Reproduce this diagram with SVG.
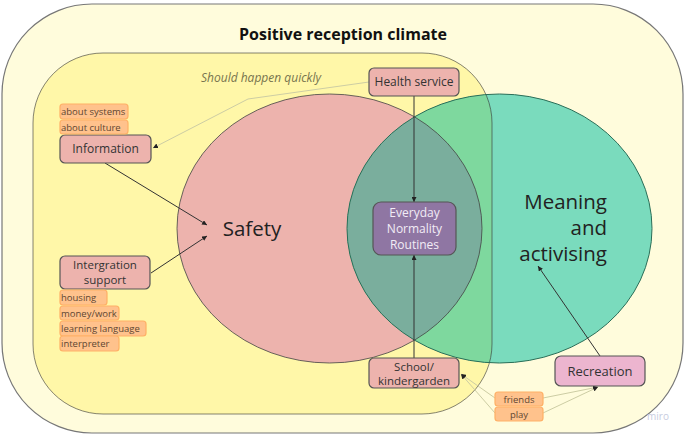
<svg xmlns="http://www.w3.org/2000/svg" width="685" height="437" viewBox="0 0 685 437">
<defs>
<style>
text{font-family:"Open Sans","DejaVu Sans",sans-serif;}
.node{fill:#edb3ad;stroke:#555;stroke-width:1.2;}
.lbl{font-size:12px;fill:#333;text-anchor:middle;}
.tag{fill:#ffc28c;stroke:#ffb066;stroke-width:1.2;}
.tagt{font-size:9.5px;fill:#5e4632;}
.dark{stroke:#333;stroke-width:1;fill:none;}
.light{stroke:#cdcda4;stroke-width:1;fill:none;}
.big{font-size:20.5px;fill:#222;}
</style>
<marker id="ah" viewBox="0 0 6 6" refX="6" refY="3" markerWidth="5" markerHeight="5" markerUnits="userSpaceOnUse" orient="auto">
<path d="M0,0 L6,3 L0,6 z" fill="#222"/>
</marker>
<clipPath id="cg"><ellipse cx="499.5" cy="228.5" rx="152.5" ry="134.5"/></clipPath>
</defs>
<g id="outer">
<rect x="2" y="4" width="681" height="429" rx="90" ry="90" fill="#fffcdc" stroke="#777" stroke-width="1.2"/>
<text x="343" y="39.5" font-size="16" font-weight="bold" fill="#111" text-anchor="middle">Positive reception climate</text>
</g>
<g id="inner">
<rect x="33" y="53" width="459" height="361" rx="70" ry="70" fill="#fff7a8"/>
<text x="201" y="82" font-size="12" font-style="italic" fill="#77744e">Should happen quickly</text>
</g>
<g id="safety">
<ellipse cx="329.5" cy="228.5" rx="152.5" ry="134.5" fill="#edb3ad"/>
</g>
<g id="meaning">
<ellipse cx="499.5" cy="228.5" rx="152.5" ry="134.5" fill="#7adbbd"/>
<g clip-path="url(#cg)">
<rect x="33" y="53" width="459" height="361" rx="70" ry="70" fill="#7ed89e"/>
<ellipse cx="329.5" cy="228.5" rx="152.5" ry="134.5" fill="#7aae9d"/>
</g>
<rect x="33" y="53" width="459" height="361" rx="70" ry="70" fill="none" stroke="#333" stroke-opacity="0.6" stroke-width="1"/>
<ellipse cx="329.5" cy="228.5" rx="152.5" ry="134.5" fill="none" stroke="#444" stroke-opacity="0.8" stroke-width="1"/>
<ellipse cx="499.5" cy="228.5" rx="152.5" ry="134.5" fill="none" stroke="#2a6e58" stroke-width="1"/>
<text class="big" x="252" y="236" text-anchor="middle">Safety</text>
<text class="big" x="607" y="209" text-anchor="end">Meaning</text>
<text class="big" x="607" y="235" text-anchor="end">and</text>
<text class="big" x="607" y="261" text-anchor="end">activising</text>
</g>
<g id="connectors">
<polyline class="light" points="369,82 248,99 153,148" marker-end="url(#ah)"/>
<line class="dark" x1="414" y1="96" x2="414" y2="202" marker-end="url(#ah)"/>
<line class="dark" x1="414" y1="358" x2="414" y2="255" marker-end="url(#ah)"/>
<line class="dark" x1="105" y1="163" x2="207" y2="225" marker-end="url(#ah)"/>
<line class="dark" x1="151" y1="273" x2="207" y2="236" marker-end="url(#ah)"/>
<line class="dark" x1="600" y1="356" x2="538" y2="266" marker-end="url(#ah)"/>
<line class="light" x1="495" y1="398" x2="461" y2="374" marker-end="url(#ah)"/>
<line class="light" x1="495" y1="413" x2="461" y2="374" marker-end="url(#ah)"/>
<line class="light" x1="543" y1="398" x2="598" y2="387" marker-end="url(#ah)"/>
<line class="light" x1="543" y1="413" x2="598" y2="387" marker-end="url(#ah)"/>
</g>
<g id="health">
<rect class="node" x="369" y="68" width="90" height="28" rx="5"/>
<text class="lbl" x="414" y="86">Health service</text>
</g>
<g id="everyday">
<rect x="373" y="202" width="83" height="53" rx="8" fill="#8f76a3" stroke="#555" stroke-width="1.2"/>
<text class="lbl" x="414.5" y="217" style="fill:#f2ecf6">Everyday</text>
<text class="lbl" x="414.5" y="233" style="fill:#f2ecf6">Normality</text>
<text class="lbl" x="414.5" y="249" style="fill:#f2ecf6">Routines</text>
</g>
<g id="information">
<rect class="node" x="60" y="135" width="91" height="28" rx="5"/>
<text class="lbl" x="105.5" y="153">Information</text>
</g>
<g id="tag-systems"><rect class="tag" x="60" y="104" width="68" height="15" rx="3"/><text class="tagt" x="61" y="115">about systems</text></g>
<g id="tag-culture"><rect class="tag" x="60" y="120" width="68" height="14" rx="3"/><text class="tagt" x="61" y="130.5">about culture</text></g>
<g id="integration">
<rect class="node" x="60" y="256" width="90" height="33" rx="5"/>
<text class="lbl" x="105" y="268.5" style="font-size:11.5px">Intergration</text>
<text class="lbl" x="105" y="284" style="font-size:11.5px">support</text>
</g>
<g id="tag-housing"><rect class="tag" x="60" y="290" width="47" height="15" rx="3"/><text class="tagt" x="61" y="301">housing</text></g>
<g id="tag-money"><rect class="tag" x="60" y="306" width="59" height="14" rx="3"/><text class="tagt" x="61" y="316.5">money/work</text></g>
<g id="tag-language"><rect class="tag" x="60" y="321" width="86" height="15" rx="3"/><text class="tagt" x="61" y="332">learning language</text></g>
<g id="tag-interpreter"><rect class="tag" x="60" y="336" width="59" height="15" rx="3"/><text class="tagt" x="61" y="347">interpreter</text></g>
<g id="school">
<rect class="node" x="369" y="358" width="90" height="30" rx="5"/>
<text class="lbl" x="414" y="370.5" style="font-size:11.5px">School/</text>
<text class="lbl" x="414" y="385" style="font-size:11.5px">kindergarden</text>
</g>
<g id="recreation">
<rect x="555" y="356" width="90" height="30" rx="6" fill="#ecb5cf" stroke="#555" stroke-width="1.2"/>
<text class="lbl" x="600" y="376" style="font-size:13px">Recreation</text>
</g>
<g id="tag-friends"><rect class="tag" x="495" y="392" width="48" height="14" rx="3"/><text class="tagt" x="519" y="402.5" text-anchor="middle">friends</text></g>
<g id="tag-play"><rect class="tag" x="495" y="407" width="48" height="14" rx="3"/><text class="tagt" x="519" y="417.5" text-anchor="middle">play</text></g>
<text x="658" y="420" font-size="10" fill="#c8cce0" text-anchor="middle">miro</text>
</svg>
